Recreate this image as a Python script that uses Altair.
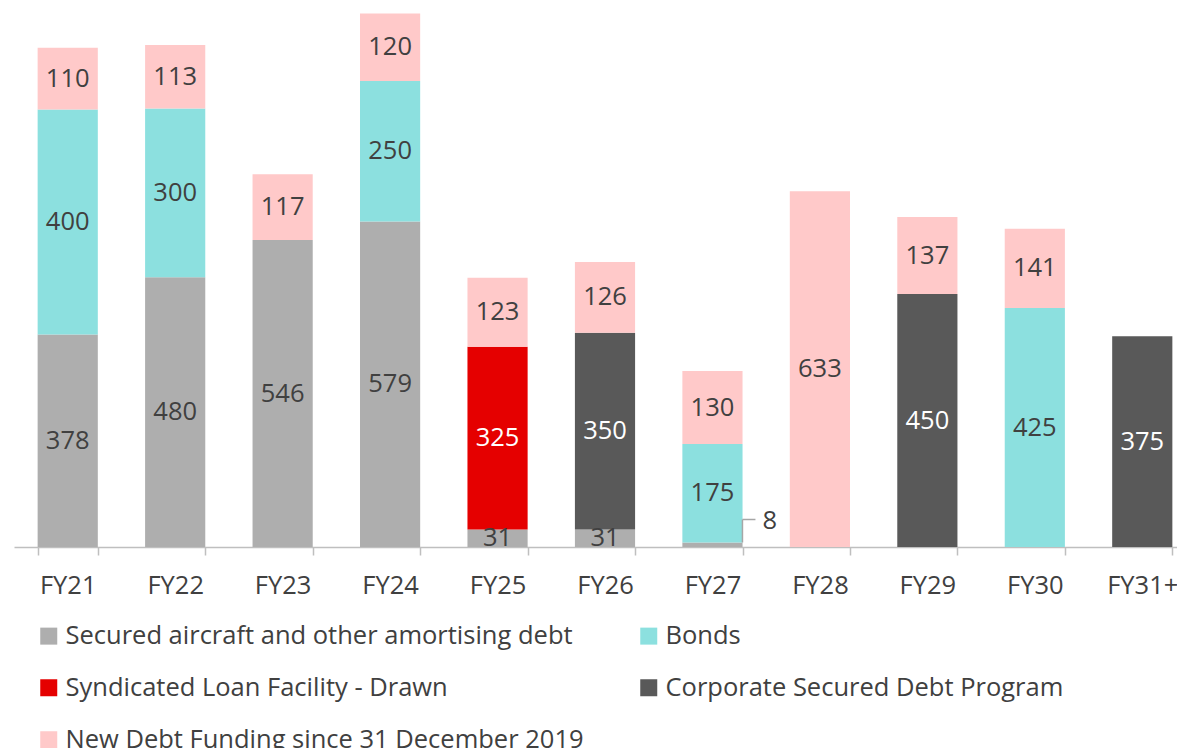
import altair as alt
import pandas as pd

categories = ["FY21", "FY22", "FY23", "FY24", "FY25", "FY26", "FY27", "FY28", "FY29", "FY30", "FY31+"]
series_names = [
    "Secured aircraft and other amortising debt",
    "Syndicated Loan Facility - Drawn",
    "Corporate Secured Debt Program",
    "Bonds",
    "New Debt Funding since 31 December 2019",
]
secured = [378, 480, 546, 579, 31, 31, 8, 0, 0, 0, 0]
syndicated = [0, 0, 0, 0, 325, 0, 0, 0, 0, 0, 0]
corporate = [0, 0, 0, 0, 0, 350, 0, 0, 450, 0, 375]
bonds = [400, 300, 0, 250, 0, 0, 175, 0, 0, 425, 0]
new_debt = [110, 113, 117, 120, 123, 126, 130, 633, 137, 141, 0]

# legend fills column by column (3 rows)
legend_order = [series_names[0], series_names[1], series_names[4], series_names[3], series_names[2]]
colors = {
    series_names[0]: "#AEAEAE",
    series_names[1]: "#E50000",
    series_names[2]: "#595959",
    series_names[3]: "#8CE0DF",
    series_names[4]: "#FFC9C9",
}
label_colors = {
    series_names[0]: "#404040",
    series_names[1]: "#FFFFFF",
    series_names[2]: "#FFFFFF",
    series_names[3]: "#404040",
    series_names[4]: "#404040",
}

rows = []
for si, (name, vals) in enumerate(zip(series_names, [secured, syndicated, corporate, bonds, new_debt])):
    for c, v in zip(categories, vals):
        if v > 0:
            rows.append({"cat": c, "series": name, "val": v, "ord": si,
                         "lblcolor": label_colors[name]})
df = pd.DataFrame(rows)

FONT = "Open Sans"
FS = 25.5

base = alt.Chart(df).transform_stack(
    stack="val", groupby=["cat"], sort=[alt.SortField("ord", order="ascending")], as_=["v0", "v1"]
).transform_calculate(mid="(datum.v0 + datum.v1) / 2")

xscale = alt.Scale(paddingInner=0.44, paddingOuter=0.22, range=[0, 1182])
xenc = alt.X("cat:N", sort=categories, title=None, scale=xscale,
             axis=alt.Axis(labelAngle=0, labelFont=FONT, labelFontSize=FS, labelColor="#404040",
                           domainColor="#BFBFBF", domainWidth=1.5, tickColor="#BFBFBF",
                           tickWidth=1.5, tickSize=8, tickBand="extent", labelPadding=18))
yscale = alt.Scale(domain=[0, 973], nice=False)

bars = base.mark_bar().encode(
    x=xenc,
    y=alt.Y("v0:Q", scale=yscale, axis=None, title=None),
    y2="v1:Q",
    color=alt.Color("series:N", scale=alt.Scale(domain=legend_order, range=[colors[s] for s in legend_order]),
                    legend=alt.Legend(title=None, orient="none", legendX=22, legendY=623, columns=2,
                                      direction="vertical",
                                      symbolType="square", symbolSize=289, symbolStrokeWidth=0,
                                      labelFont=FONT, labelFontSize=FS, labelColor="#404040",
                                      labelLimit=800, labelOffset=4, rowPadding=25, columnPadding=52,
                                      padding=0)),
)

labels = base.transform_filter("datum.val >= 20").mark_text(font=FONT, fontSize=FS, baseline="middle").encode(
    x=alt.X("cat:N", sort=categories),
    y=alt.Y("mid:Q", scale=yscale),
    text=alt.Text("val:Q"),
    color=alt.Color("lblcolor:N", scale=None),
)

small = base.transform_filter("datum.val < 20")
vline = small.mark_rule(color="#A6A6A6", strokeWidth=1.5, xOffset=30, y2Offset=-23).encode(
    x=alt.X("cat:N", sort=categories), y=alt.Y("v1:Q", scale=yscale), y2="v1:Q")
hline = small.mark_rule(color="#A6A6A6", strokeWidth=1.5, xOffset=30, x2Offset=43, yOffset=-23).encode(
    x=alt.X("cat:N", sort=categories), x2="cat:N", y=alt.Y("v1:Q", scale=yscale))
small_text = small.mark_text(font=FONT, fontSize=FS, color="#404040", align="left", baseline="middle",
                             dx=50, dy=-22).encode(
    x=alt.X("cat:N", sort=categories), y=alt.Y("v1:Q", scale=yscale), text=alt.Text("val:Q"))

chart = alt.layer(bars, labels, vline, hline, small_text).properties(
    width=1163, height=547,
    padding={"left": 14, "top": 0, "right": 0, "bottom": 201},
    autosize=alt.AutoSizeParams(type="none"),
).configure_view(stroke=None)

chart.save("out.html", embed_options={"renderer": "svg", "actions": False})
